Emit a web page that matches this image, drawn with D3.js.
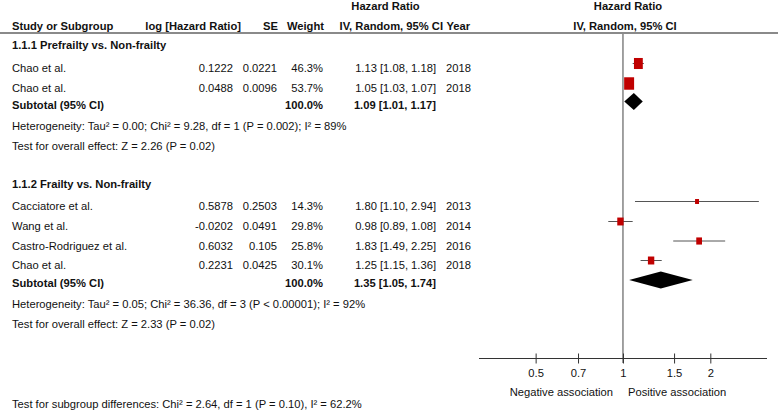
<!DOCTYPE html>
<html>
<head>
<meta charset="utf-8">
<script src="https://cdn.jsdelivr.net/npm/d3@7"></script>
<style>
  html, body { margin: 0; padding: 0; background: #fff; }
  svg { display: block; }
  text { font-family: "Liberation Sans", Arial, Helvetica, sans-serif; font-size: 11.2px; fill: #111; }
  .b { font-weight: bold; }
</style>
</head>
<body>
<svg id="chart" width="779" height="411"></svg>
<script>
// ---------------- DATA ----------------
const group1Title = "1.1.1 Prefrailty vs. Non-frailty";
const group1Studies = ["Chao et al.", "Chao et al."];
const group1LogHR = [0.1222, 0.0488];
const group1SE = [0.0221, 0.0096];
const group1Weight = [46.3, 53.7];
const group1HR = [1.13, 1.05];
const group1Lower = [1.08, 1.03];
const group1Upper = [1.18, 1.07];
const group1Year = [2018, 2018];
const group1Subtotal = { hr: 1.09, lo: 1.01, hi: 1.17, weight: 100.0 };
const group1Hetero = "Heterogeneity: Tau² = 0.00; Chi² = 9.28, df = 1 (P = 0.002); I² = 89%";
const group1Effect = "Test for overall effect: Z = 2.26 (P = 0.02)";

const group2Title = "1.1.2 Frailty vs. Non-frailty";
const group2Studies = ["Cacciatore et al.", "Wang et al.", "Castro-Rodriguez et al.", "Chao et al."];
const group2LogHR = [0.5878, -0.0202, 0.6032, 0.2231];
const group2SE = [0.2503, 0.0491, 0.105, 0.0425];
const group2Weight = [14.3, 29.8, 25.8, 30.1];
const group2HR = [1.80, 0.98, 1.83, 1.25];
const group2Lower = [1.10, 0.89, 1.49, 1.15];
const group2Upper = [2.94, 1.08, 2.25, 1.36];
const group2Year = [2013, 2014, 2016, 2018];
const group2Subtotal = { hr: 1.35, lo: 1.05, hi: 1.74, weight: 100.0 };
const group2Hetero = "Heterogeneity: Tau² = 0.05; Chi² = 36.36, df = 3 (P < 0.00001); I² = 92%";
const group2Effect = "Test for overall effect: Z = 2.33 (P = 0.02)";

const subgroupTest = "Test for subgroup differences: Chi² = 2.64, df = 1 (P = 0.10), I² = 62.2%";
const tickValues = [0.5, 0.7, 1, 1.5, 2];
const tickLabels = ["0.5", "0.7", "1", "1.5", "2"];
const axisDomain = [0.319, 3.136];
const favoursLeft = "Negative association";
const favoursRight = "Positive association";

// ---------------- LAYOUT ----------------
const svg = d3.select("#chart");
const x = d3.scaleLog().domain(axisDomain).range([479, 767]);
const size = d3.scaleLinear().domain([0, 100]).range([1.8, 17]);
const col = { study: 12, logEnd: 233, seEnd: 277, wEnd: 323, ciEnd: 436, year: 446 };
const markColor = "#c00000";
const fmtHR = d => d.toFixed(2);
const ciText = (h, l, u) => `${fmtHR(h)} [${fmtHR(l)}, ${fmtHR(u)}]`;

function txt(s, xx, y, opts = {}) {
  const t = svg.append("text").attr("x", xx).attr("y", y).text(s);
  if (opts.anchor) t.attr("text-anchor", opts.anchor);
  if (opts.bold) t.attr("class", "b");
  return t;
}

// headers
txt("Hazard Ratio", 385.5, 10, { anchor: "middle", bold: true });
txt("Hazard Ratio", 628, 10, { anchor: "middle", bold: true });
txt("Study or Subgroup", col.study, 30, { bold: true });
txt("log [Hazard Ratio]", 241, 30, { anchor: "end", bold: true });
txt("SE", 278, 30, { anchor: "end", bold: true });
txt("Weight", 324, 30, { anchor: "end", bold: true });
txt("IV, Random, 95% CI", 443, 30, { anchor: "end", bold: true });
txt("Year", 446.5, 30, { bold: true });
txt("IV, Random, 95% CI", 625, 30, { anchor: "middle", bold: true });

svg.append("line").attr("x1", 0).attr("x2", 778).attr("y1", 33).attr("y2", 33)
  .attr("stroke", "#8a8a8a").attr("stroke-width", 2);

// null line
svg.append("line").attr("x1", x(1)).attr("x2", x(1)).attr("y1", 34).attr("y2", 363)
  .attr("stroke", "#444").attr("stroke-width", 1);

function drawGroup(g) {
  txt(g.title, col.study, g.titleY + 4, { bold: true });
  g.studies.forEach((s, i) => {
    const cy = g.rowY[i];
    const by = cy + 4;
    txt(s, col.study, by);
    txt(String(g.logHR[i]), col.logEnd, by, { anchor: "end" });
    txt(String(g.se[i]), col.seEnd, by, { anchor: "end" });
    txt(g.weight[i].toFixed(1) + "%", col.wEnd, by, { anchor: "end" });
    txt(ciText(g.hr[i], g.lo[i], g.hi[i]), col.ciEnd, by, { anchor: "end" });
    txt(String(g.year[i]), col.year, by);
    const my = cy - 4.5;
    svg.append("line").attr("x1", x(g.lo[i])).attr("x2", x(g.hi[i]))
      .attr("y1", my).attr("y2", my).attr("stroke", "#555").attr("stroke-width", 1);
    const w = size(g.weight[i]), h = w * 1.25;
    svg.append("rect").attr("x", x(g.hr[i]) - w / 2).attr("y", my - h / 2)
      .attr("width", w).attr("height", h).attr("fill", markColor);
  });
  const sy = g.subY, sb = sy + 4;
  txt("Subtotal (95% CI)", col.study, sb, { bold: true });
  txt(g.sub.weight.toFixed(1) + "%", col.wEnd, sb, { anchor: "end", bold: true });
  txt(ciText(g.sub.hr, g.sub.lo, g.sub.hi), col.ciEnd, sb, { anchor: "end", bold: true });
  const dy = sy - 3, hh = 8.5;
  const pts = [[x(g.sub.lo), dy], [x(g.sub.hr), dy - hh], [x(g.sub.hi), dy], [x(g.sub.hr), dy + hh]];
  svg.append("polygon").attr("points", pts.map(p => p.join(",")).join(" ")).attr("fill", "#000");
  txt(g.hetero, col.study, g.heteroY + 4);
  txt(g.effect, col.study, g.effectY + 4);
}

drawGroup({
  title: group1Title, titleY: 45, studies: group1Studies, rowY: [68, 88],
  logHR: group1LogHR, se: group1SE, weight: group1Weight, hr: group1HR,
  lo: group1Lower, hi: group1Upper, year: group1Year, sub: group1Subtotal, subY: 104.5,
  hetero: group1Hetero, heteroY: 126, effect: group1Effect, effectY: 146
});
drawGroup({
  title: group2Title, titleY: 184, studies: group2Studies, rowY: [206, 226, 245.5, 265],
  logHR: group2LogHR, se: group2SE, weight: group2Weight, hr: group2HR,
  lo: group2Lower, hi: group2Upper, year: group2Year, sub: group2Subtotal, subY: 283,
  hetero: group2Hetero, heteroY: 304, effect: group2Effect, effectY: 323.5
});

// axis
const axisY = 358.5;
svg.append("line").attr("x1", x.range()[0]).attr("x2", x.range()[1])
  .attr("y1", axisY).attr("y2", axisY).attr("stroke", "#333").attr("stroke-width", 1);
const ax = svg.append("g").attr("transform", `translate(0,${axisY - 5})`)
  .call(d3.axisBottom(x).tickValues(tickValues).tickSize(10).tickPadding(6)
    .tickFormat((d, i) => tickLabels[i]));
ax.select(".domain").remove();
ax.selectAll(".tick line").attr("stroke", "#333");
ax.selectAll(".tick text").attr("font-family", null).attr("font-size", null).attr("fill", "#111");

txt(favoursLeft, 613, 396, { anchor: "end" });
txt(favoursRight, 628, 396);
txt(subgroupTest, col.study, 407.5);
</script>
</body>
</html>
